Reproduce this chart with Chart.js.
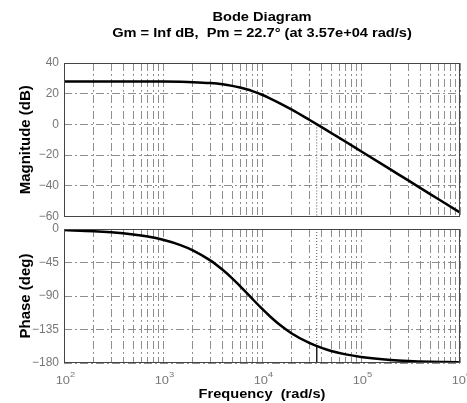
<!DOCTYPE html>
<html>
<head>
<meta charset="utf-8">
<script src="https://cdn.jsdelivr.net/npm/chart.js@4.4.0/dist/chart.umd.min.js"></script>
<style>
  html, body { margin: 0; padding: 0; background: #fff; }
  #wrap { position: relative; width: 467px; height: 403px; }
  #wrap canvas { position: absolute; left: 0; top: 0; }
</style>
</head>
<body>
<div id="wrap">
  <canvas id="mag" width="467" height="403"></canvas>
  <canvas id="phase" width="467" height="403"></canvas>
</div>
<script>
// values
const freqs = [100, 200, 300, 500, 700, 1000, 1500, 2000, 3000, 4000, 5000, 6000, 7000, 8000,
  10000, 12000, 15000, 20000, 30000, 40000, 50000, 70000, 100000, 200000, 300000, 500000, 700000, 1000000];
const magnitudeDb = [28.0, 28.0, 28.0, 27.97, 27.94, 27.88, 27.72, 27.5, 26.9, 26.1, 25.1, 24.0, 22.9, 21.7,
  19.3, 17.0, 13.9, 9.6, 3.0, -1.8, -5.6, -11.3, -17.5, -29.5, -36.5, -45.4, -51.2, -57.4];
const phaseDeg = [-1.5, -2.9, -4.4, -7.3, -10.1, -14.5, -21.6, -28.6, -42.1, -54.8, -66.3, -76.7, -85.8, -93.9,
  -107.1, -117.2, -128.3, -140.3, -153.1, -159.7, -163.8, -168.4, -171.8, -175.9, -177.3, -178.4, -178.8, -179.2];

// crossover marker (Pm = 22.7 deg at 3.57e4 rad/s)
const crossFreq = 3.57e4;
const magMarkY = [0, -60];
const phaseDotY = [0, -157.3];
const phaseSolidY = [-157.3, -180];

const decades = [100, 1000, 10000, 100000, 1000000];
const decadeExp = ['2', '3', '4', '5', '6'];
const minorSteps = [1, 2, 3, 4, 5, 6, 7, 8, 9];
const magTicks = [-60, -40, -20, 0, 20, 40];
const phaseTicks = [-180, -135, -90, -45, 0];

const FONT = "'Liberation Sans', Arial, Helvetica, sans-serif";
const GRID = '#8e8e8e';
const TICK_TEXT = '#777';
const BOX = '#454545';
const STRETCH = 1.17;
const DASH = [8, 3, 2, 3];

const gridFreqs = [];
decades.slice(0, -1).forEach(d => minorSteps.forEach(m => gridFreqs.push(d * m)));
gridFreqs.push(decades[decades.length - 1]);

const pts = ys => freqs.map((f, i) => ({ x: f, y: ys[i] }));
const mark = ys => ys.map(y => ({ x: crossFreq, y }));

function xScale() {
  return {
    type: 'logarithmic',
    min: 100,
    max: 1e6,
    afterBuildTicks: s => { s.ticks = gridFreqs.map(v => ({ value: v })); },
    afterFit: s => { s.height = 0; },
    ticks: { display: false, autoSkip: false },
    grid: { color: GRID, lineWidth: 1, drawTicks: false },
    border: { display: false, dash: DASH }
  };
}

function yScale(min, max, ticks) {
  return {
    min,
    max,
    afterBuildTicks: s => { s.ticks = ticks.map(v => ({ value: v })); },
    afterFit: s => { s.width = 64; },
    ticks: {
      color: TICK_TEXT,
      font: { family: FONT, size: 12 },
      padding: 5,
      callback: v => String(v).replace('-', '\u2212')
    },
    grid: { color: GRID, lineWidth: 1, drawTicks: false },
    border: { display: false, dash: DASH }
  };
}

function stretched(ctx, text, x, y, size, bold, color, align) {
  ctx.save();
  ctx.translate(x, y);
  ctx.scale(STRETCH, 1);
  ctx.font = (bold ? 'bold ' : '') + size + 'px ' + FONT;
  ctx.fillStyle = color;
  ctx.textAlign = align || 'center';
  ctx.textBaseline = 'alphabetic';
  ctx.fillText(text, 0, 0);
  ctx.restore();
}

function vertical(ctx, text, x, y, size) {
  ctx.save();
  ctx.translate(x, y);
  ctx.rotate(-Math.PI / 2);
  ctx.font = 'bold ' + size + 'px ' + FONT;
  ctx.fillStyle = '#000';
  ctx.textAlign = 'center';
  ctx.textBaseline = 'alphabetic';
  ctx.fillText(text, 0, 0);
  ctx.restore();
}

const boxPlugin = {
  id: 'box',
  afterDraw(chart) {
    const { ctx, chartArea: a } = chart;
    ctx.save();
    ctx.strokeStyle = BOX;
    ctx.lineWidth = 1;
    ctx.strokeRect(Math.round(a.left) + 0.5, Math.round(a.top) + 0.5,
      Math.round(a.right - a.left) - 1, Math.round(a.bottom - a.top) - 1);
    ctx.restore();
  }
};

const magText = {
  id: 'magText',
  afterDraw(chart) {
    const { ctx, chartArea: a } = chart;
    const cx = (a.left + a.right) / 2;
    stretched(ctx, 'Bode Diagram', cx, 21, 12.5, true, '#000');
    stretched(ctx, 'Gm = Inf dB,  Pm = 22.7\u00b0 (at 3.57e+04 rad/s)', cx, 37, 12.5, true, '#000');
    vertical(ctx, 'Magnitude (dB)', 30, (a.top + a.bottom) / 2, 15);
  }
};

const phaseText = {
  id: 'phaseText',
  afterDraw(chart) {
    const { ctx, chartArea: a, scales } = chart;
    decades.forEach((d, i) => {
      const x = scales.x.getPixelForValue(d);
      ctx.save();
      ctx.font = '11px ' + FONT;
      const w1 = ctx.measureText('10').width;
      ctx.font = '8px ' + FONT;
      const w2 = ctx.measureText(decadeExp[i]).width;
      ctx.restore();
      const left = x - (w1 + w2) / 2;
      stretched(ctx, '10', left, 384, 11, false, TICK_TEXT, 'left');
      stretched(ctx, decadeExp[i], left + w1 * STRETCH, 377, 8, false, TICK_TEXT, 'left');
    });
    stretched(ctx, 'Frequency  (rad/s)', (a.left + a.right) / 2, 398, 12.5, true, '#000');
    vertical(ctx, 'Phase (deg)', 30, (a.top + a.bottom) / 2, 15);
  }
};

function curve(data) {
  return {
    data, borderColor: '#000', borderWidth: 2.5, pointRadius: 0,
    cubicInterpolationMode: 'monotone', fill: false
  };
}

function marker(data, dash, color) {
  return {
    data, borderColor: color, borderWidth: 1, borderDash: dash, pointRadius: 0, fill: false
  };
}

function baseOptions(padding, yOpts) {
  return {
    responsive: false,
    animation: false,
    layout: { padding },
    plugins: { legend: { display: false }, tooltip: { enabled: false }, title: { display: false } },
    scales: { x: xScale(), y: yOpts }
  };
}

new Chart(document.getElementById('mag'), {
  type: 'line',
  data: {
    datasets: [
      curve(pts(magnitudeDb)),
      marker(mark(magMarkY), [1, 2], '#555')
    ]
  },
  options: baseOptions({ left: 0, right: 7, top: 63, bottom: 186.5 }, yScale(-60, 40, magTicks)),
  plugins: [boxPlugin, magText]
});

new Chart(document.getElementById('phase'), {
  type: 'line',
  data: {
    datasets: [
      curve(pts(phaseDeg)),
      marker(mark(phaseDotY), [1, 2], '#555'),
      marker(mark(phaseSolidY), [], '#222')
    ]
  },
  options: baseOptions({ left: 0, right: 7, top: 229, bottom: 40 }, yScale(-180, 0, phaseTicks)),
  plugins: [boxPlugin, phaseText]
});
</script>
</body>
</html>
